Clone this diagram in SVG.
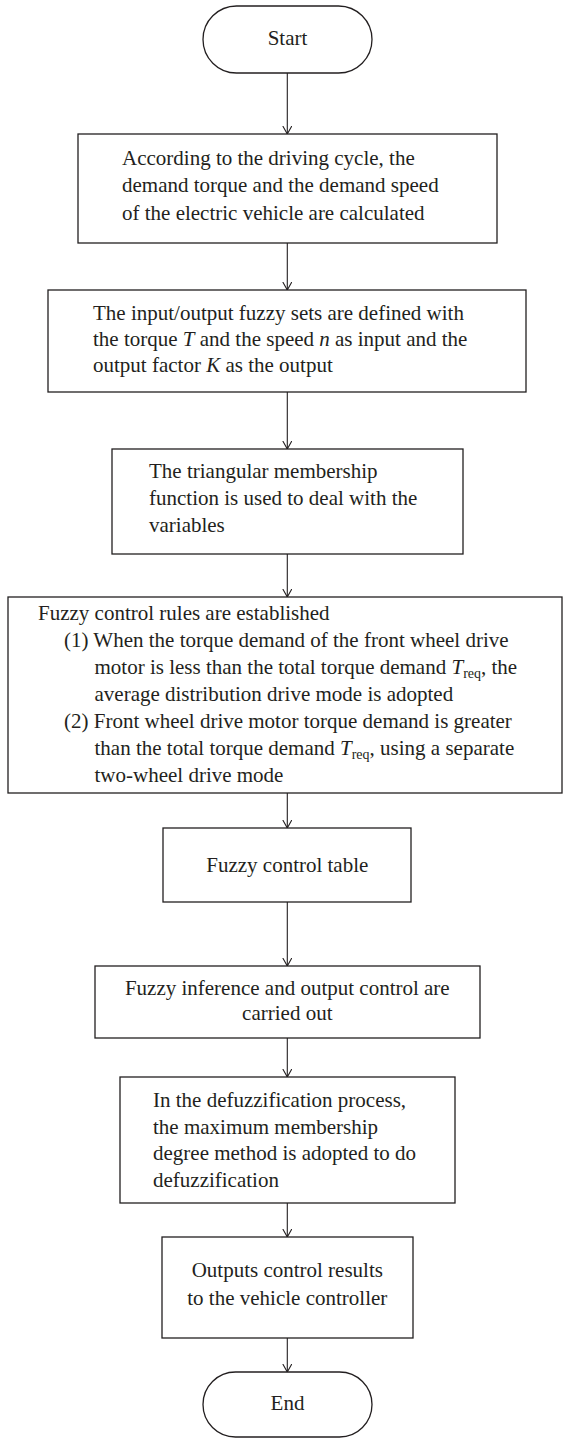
<svg xmlns="http://www.w3.org/2000/svg" width="563" height="1439" viewBox="0 0 563 1439">
<style>
.box{fill:#fff;stroke:#231f20;stroke-width:1.3}
.t{font-family:"Liberation Serif","Times New Roman",serif;font-size:21px;fill:#231f20}
.c{text-anchor:middle}
.i{font-style:italic}
.sub{font-size:14px}
.con{stroke:#231f20;stroke-width:1.1;fill:none}
</style>
<defs>
<marker id="arr" viewBox="0 0 8 10" markerWidth="8" markerHeight="10" refX="8" refY="5" orient="auto" markerUnits="userSpaceOnUse">
<path d="M0,0.5 L8,5 L0,9.5" fill="none" stroke="#231f20" stroke-width="1.1"/>
</marker>
</defs>
<rect width="563" height="1439" fill="#fff"/>
<g id="connectors">
<line class="con" x1="287.3" y1="73" x2="287.3" y2="134" marker-end="url(#arr)"/>
<line class="con" x1="287.3" y1="243" x2="287.3" y2="290" marker-end="url(#arr)"/>
<line class="con" x1="287.3" y1="392" x2="287.3" y2="449" marker-end="url(#arr)"/>
<line class="con" x1="287.3" y1="554" x2="287.3" y2="597" marker-end="url(#arr)"/>
<line class="con" x1="287.3" y1="793" x2="287.3" y2="828" marker-end="url(#arr)"/>
<line class="con" x1="287.3" y1="902" x2="287.3" y2="966" marker-end="url(#arr)"/>
<line class="con" x1="287.3" y1="1038" x2="287.3" y2="1077" marker-end="url(#arr)"/>
<line class="con" x1="287.3" y1="1203" x2="287.3" y2="1237" marker-end="url(#arr)"/>
<line class="con" x1="287.3" y1="1338" x2="287.3" y2="1372" marker-end="url(#arr)"/>
</g>
<g id="start">
<rect class="box" x="203" y="6" width="169" height="67" rx="33.5"/>
<text class="t c" x="287.5" y="45">Start</text>
</g>
<g id="box1">
<rect class="box" x="78" y="134" width="419" height="109"/>
<text class="t" x="122" y="165">According to the driving cycle, the</text>
<text class="t" x="122" y="192">demand torque and the demand speed</text>
<text class="t" x="122" y="220">of the electric vehicle are calculated</text>
</g>
<g id="box2">
<rect class="box" x="48" y="290" width="478" height="102"/>
<text class="t" x="93" y="320">The input/output fuzzy sets are defined with</text>
<text class="t" x="93" y="346">the torque <tspan class="i">T</tspan> and the speed <tspan class="i">n</tspan> as input and the</text>
<text class="t" x="93" y="372">output factor <tspan class="i">K</tspan> as the output</text>
</g>
<g id="box3">
<rect class="box" x="112" y="449" width="351" height="105"/>
<text class="t" x="149" y="478">The triangular membership</text>
<text class="t" x="149" y="505">function is used to deal with the</text>
<text class="t" x="149" y="532">variables</text>
</g>
<g id="box4">
<rect class="box" x="8" y="597" width="554" height="196"/>
<text class="t" x="38" y="620">Fuzzy control rules are established</text>
<text class="t" x="64" y="647">(1) When the torque demand of the front wheel drive</text>
<text class="t" x="94.5" y="674">motor is less than the total torque demand <tspan class="i">T</tspan><tspan class="sub" dy="4">req</tspan><tspan dy="-4">, the</tspan></text>
<text class="t" x="94.5" y="701">average distribution drive mode is adopted</text>
<text class="t" x="64" y="728">(2) Front wheel drive motor torque demand is greater</text>
<text class="t" x="94.5" y="755">than the total torque demand <tspan class="i">T</tspan><tspan class="sub" dy="4">req</tspan><tspan dy="-4">, using a separate</tspan></text>
<text class="t" x="94.5" y="782">two-wheel drive mode</text>
</g>
<g id="box5">
<rect class="box" x="163" y="828" width="248" height="74"/>
<text class="t c" x="287.3" y="872">Fuzzy control table</text>
</g>
<g id="box6">
<rect class="box" x="95" y="966" width="385" height="72"/>
<text class="t c" x="287.3" y="995">Fuzzy inference and output control are</text>
<text class="t c" x="287.3" y="1020">carried out</text>
</g>
<g id="box7">
<rect class="box" x="120" y="1077" width="335" height="126"/>
<text class="t" x="153" y="1107">In the defuzzification process,</text>
<text class="t" x="153" y="1133.5">the maximum membership</text>
<text class="t" x="153" y="1160">degree method is adopted to do</text>
<text class="t" x="153" y="1187">defuzzification</text>
</g>
<g id="box8">
<rect class="box" x="162" y="1237" width="251" height="101"/>
<text class="t c" x="287.3" y="1277">Outputs control results</text>
<text class="t c" x="287.3" y="1305">to the vehicle controller</text>
</g>
<g id="end">
<rect class="box" x="203" y="1372" width="169" height="65" rx="32.5"/>
<text class="t c" x="287.5" y="1410">End</text>
</g>
</svg>
